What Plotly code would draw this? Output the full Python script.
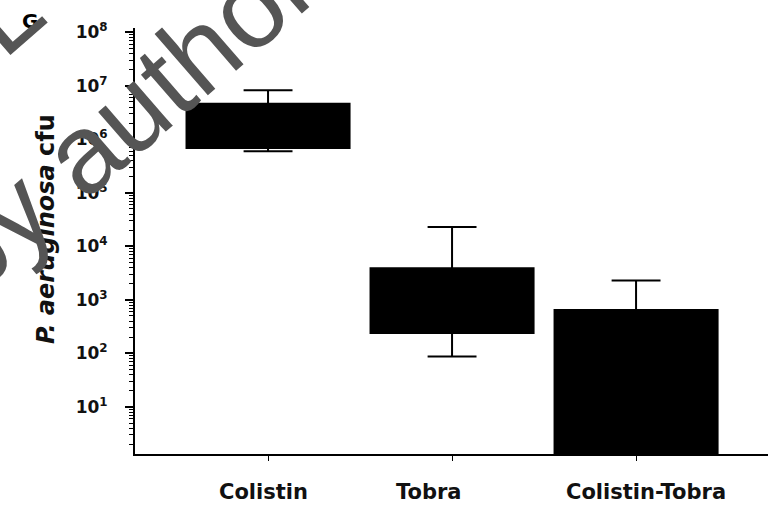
import plotly.graph_objects as go

categories = ["Colistin", "Tobra", "Colistin-Tobra"]
upper = [8.3e6, 2.3e4, 2.3e3]
q3 = [4.6e6, 3.9e3, 650]
median = [1.5e6, 1.0e3, 50]
q1 = [6.9e5, 2.4e2, 0.5]
lower = [6.0e5, 87, 0.5]
label_shift = [-0.027, -0.125, 0.054]  # label offsets from box centres, in category units

major_exp = [1, 2, 3, 4, 5, 6, 7, 8]
major_vals = [10 ** e for e in major_exp]
major_text = ["10<sup>%d</sup>" % e for e in major_exp]
minor_vals = [k * 10 ** d for d in range(0, 8) for k in range(2, 10)]

fig = go.Figure()
fig.add_trace(go.Box(
    x=categories, q1=q1, median=median, q3=q3,
    lowerfence=lower, upperfence=upper,
    fillcolor="black", line=dict(color="black", width=2),
    whiskerwidth=0.3, width=0.886, boxpoints=False,
    hoverinfo="skip", showlegend=False,
))

fig.update_layout(
    width=768, height=505,
    margin=dict(l=135, r=0, t=28, b=51),
    paper_bgcolor="white", plot_bgcolor="white",
    font=dict(family="DejaVu Sans", color="#111111"),
    xaxis=dict(
        range=[-0.723, 2.717], showline=True, linecolor="black", linewidth=2,
        ticks="outside", ticklen=5, tickcolor="black", tickwidth=1,
        showticklabels=False, showgrid=False, zeroline=False, automargin=False,
    ),
    yaxis=dict(
        type="log", range=[0.12, 8.08], showline=True, linecolor="black", linewidth=2,
        tickmode="array", tickvals=major_vals, ticktext=major_text,
        ticks="outside", ticklen=8, tickcolor="black", tickwidth=2,
        tickfont=dict(family="DejaVu Sans", size=17, weight="bold"),
        ticklabelstandoff=14, automargin=False,
        minor=dict(tickmode="array", tickvals=minor_vals, ticks="outside",
                   ticklen=4, tickcolor="black", tickwidth=1, showgrid=False),
        showgrid=False, zeroline=False,
    ),
)

# y-axis title
fig.add_annotation(text="<i>P. aeruginosa</i> cfu", xref="paper", yref="paper",
                   x=(46 - 135) / 633, y=(454 - 229) / 426, textangle=-90,
                   xanchor="center", yanchor="middle", showarrow=False,
                   font=dict(family="DejaVu Sans", size=24, weight="bold", color="#111111"))

for i, (cat, sh) in enumerate(zip(categories, label_shift)):
    fig.add_annotation(text=cat, xref="x", yref="paper", x=i + sh, y=(454 - 492) / 426,
                       xanchor="center", yanchor="middle", showarrow=False,
                       font=dict(family="DejaVu Sans", size=21, weight="bold", color="#111111"))

fig.add_annotation(text="G", xref="paper", yref="paper", x=(30 - 135) / 633, y=(454 - 21) / 426,
                   xanchor="center", yanchor="middle",
                   showarrow=False, font=dict(family="DejaVu Sans", size=20, weight="bold", color="black"))

# watermark
fig.add_annotation(text="by author", xref="paper", yref="paper",
                   x=(122 - 135) / 633, y=(454 - 118) / 426,
                   xanchor="center", yanchor="middle", textangle=-41,
                   showarrow=False,
                   font=dict(family="Liberation Sans", size=112, color="#555555"))
fig.add_annotation(text="L", xref="paper", yref="paper",
                   x=(2 - 135) / 633, y=(454 - 12) / 426,
                   xanchor="center", yanchor="middle", textangle=-41,
                   showarrow=False,
                   font=dict(family="Liberation Sans", size=112, color="#555555"))

fig.write_html("out.html", config={"displayModeBar": False},
               post_script="document.body.style.margin='0';document.body.style.padding='0';")
